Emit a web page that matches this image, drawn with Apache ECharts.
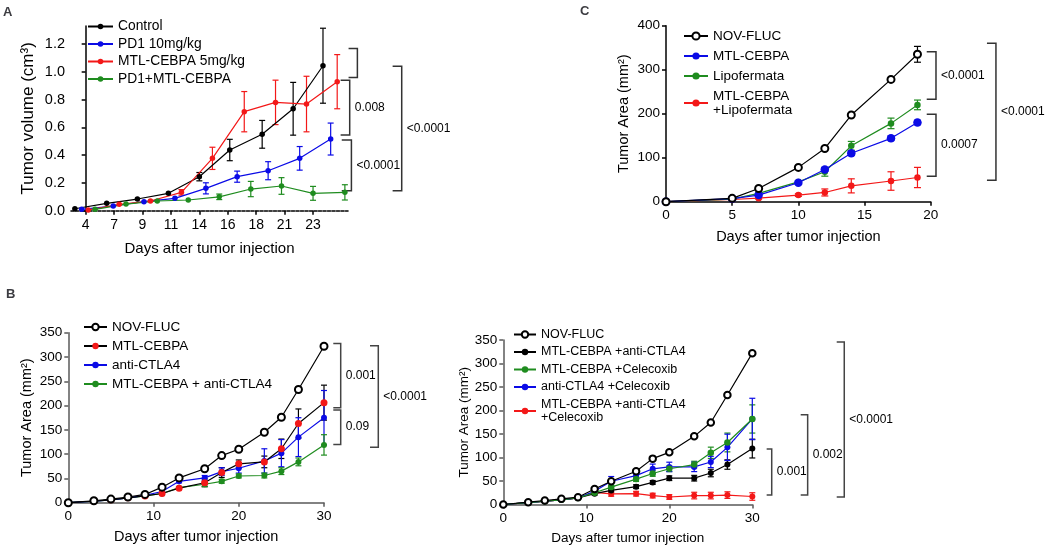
<!DOCTYPE html>
<html>
<head>
<meta charset="utf-8">
<script src="https://cdn.jsdelivr.net/npm/echarts@6/dist/echarts.min.js"></script>
<style>
  html, body { margin: 0; padding: 0; background: #fff; }
  #Chart { width: 1050px; height: 551px; }
</style>
</head>
<body>
<div id="Chart"></div>
<script>
// ---------- panel A : tumor volume (cm3), day groups are staggered
const aDayLabels = ['4', '7', '9', '11', '14', '16', '18', '21', '23'];
// x is the position in label slots
const aControlX = [-0.38, 0.74, 1.82, 2.91, 4.0, 5.07, 6.21, 7.3, 8.35];
const aControlY = [0.014, 0.053, 0.084, 0.125, 0.245, 0.437, 0.55, 0.734, 1.044];
const aControlErr = [0, 0, 0, 0, 0.03, 0.077, 0.1, 0.19, 0.27];
const aPd1X = [-0.14, 0.97, 2.05, 3.14, 4.23, 5.33, 6.42, 7.53, 8.62];
const aPd1Y = [0.01, 0.034, 0.065, 0.089, 0.161, 0.245, 0.288, 0.377, 0.516];
const aPd1Err = [0, 0, 0, 0, 0.04, 0.04, 0.065, 0.085, 0.115];
const aMtlX = [0.09, 1.18, 2.28, 3.37, 4.46, 5.58, 6.68, 7.77, 8.85];
const aMtlY = [0.005, 0.046, 0.07, 0.132, 0.377, 0.713, 0.78, 0.768, 0.929];
const aMtlErr = [0, 0, 0, 0.02, 0.08, 0.145, 0.16, 0.2, 0.195];
const aComboX = [0.33, 1.42, 2.52, 3.61, 4.7, 5.81, 6.89, 8.0, 9.12];
const aComboY = [0.01, 0.048, 0.07, 0.077, 0.1, 0.156, 0.178, 0.125, 0.132];
const aComboErr = [0, 0, 0, 0, 0.02, 0.055, 0.06, 0.05, 0.055];

// ---------- panel C : tumor area (mm2)
const cDays = [0, 5, 7, 10, 12, 14, 17, 19];
const cNovFluc = [0, 7.6, 30, 78, 121, 197, 278, 335];
const cNovFlucErr = [0, 0, 0, 0, 0, 0, 0, 18];
const cMtl = [0, 7, 15, 43, 73, 110, 144, 180];
const cMtlErr = [0, 0, 0, 3, 4, 5, 5, 5];
const cLipo = [0, 6, 19, 45, 68, 127, 178, 220];
const cLipoErr = [0, 0, 2, 3, 10, 10, 12, 11];
const cMtlLipo = [0, 5, 8, 15, 21, 36, 47, 55];
const cMtlLipoErr = [0, 0, 2, 3, 8, 16, 21, 23];

// ---------- panel B left
const bDays = [0, 3, 5, 7, 9, 11, 13, 16, 18, 20, 23, 25, 27, 30];
const bNovFluc = [0, 4, 7.5, 11.7, 17, 32, 51, 70, 97, 110, 145, 176, 233, 322];
const bNovFlucErr = [0, 0, 0, 0, 0, 0, 0, 0, 0, 0, 0, 5, 5, 0];
const bMtl = [0, 3, 6, 10, 14, 19, 30, 41, 62, 80, 84, 111, 163, 206];
const bMtlErr = [0, 0, 0, 0, 0, 0, 0, 8, 10, 8, 12, 20, 30, 36];
const bAnti = [0, 3, 6, 10, 15, 23, 44, 51, 64, 71, 86, 102, 135, 175];
const bAntiErr = [0, 0, 0, 0, 0, 0, 3, 5, 8, 10, 25, 28, 40, 56];
const bMtlAnti = [0, 3, 6, 10, 14, 19, 31, 38, 44, 55, 56, 65, 84, 119];
const bMtlAntiErr = [0, 0, 0, 0, 0, 0, 0, 5, 4, 4, 5, 7, 8, 21];

// ---------- panel B right
const brNovFluc = [0, 5, 8.5, 12, 15.5, 33, 49.5, 70.7, 97.6, 111, 145, 174.6, 233, 322];
const brMtlAnti = [0, 4, 7, 10, 14, 23, 30, 38, 47, 56, 56, 67, 85, 119];
const brMtlAntiErr = [0, 0, 0, 0, 0, 3, 4, 4, 4, 5, 6, 8, 10, 20];
const brMtlCel = [0, 4, 7, 10, 14, 25, 37, 54, 66, 76, 85, 110, 132, 182];
const brMtlCelErr = [0, 0, 0, 0, 0, 0, 4, 5, 6, 6, 7, 12, 20, 30];
const brAntiCel = [0, 4, 7, 10, 14, 28, 49.5, 61.5, 76, 80, 80, 90.5, 121.6, 182];
const brAntiCelErr = [0, 0, 0, 0, 0, 4, 10, 6, 10, 10, 10, 12, 28, 44];
const brTriple = [0, 4, 7, 10, 14, 26, 22.6, 23, 19, 16, 19, 19, 20, 17];
const brTripleErr = [0, 0, 0, 0, 0, 3, 5, 5, 5, 5, 7, 7, 7, 8];

// ---------- significance brackets (x in axis units, y = bracket ends)
const aBrackets = [
  { x: 9.56, arm: 9.25, top: 1.168, bottom: 0.96, label: '' },
  { x: 9.29, arm: 8.97, top: 0.94, bottom: 0.545, label: '0.008' },
  { x: 9.35, arm: 9.01, top: 0.509, bottom: 0.144, label: '<0.0001' },
  { x: 11.12, arm: 10.8, top: 1.04, bottom: 0.144, label: '<0.0001' }
];
const cBrackets = [
  { x: 20.4, arm: 19.7, top: 341, bottom: 232.6, label: '<0.0001' },
  { x: 20.4, arm: 19.7, top: 199, bottom: 58, label: '0.0007' },
  { x: 24.93, arm: 24.25, top: 360, bottom: 49, label: '<0.0001' }
];
const bBrackets = [
  { x: 31.96, arm: 31.09, top: 328, bottom: 195.6, label: '0.001' },
  { x: 31.96, arm: 31.09, top: 191, bottom: 120, label: '0.09' },
  { x: 36.37, arm: 35.4, top: 323, bottom: 114, label: '<0.0001' }
];
const brBrackets = [
  { x: 32.34, arm: 31.73, top: 118, bottom: 20, label: '0.001' },
  { x: 36.67, arm: 35.83, top: 191, bottom: 20, label: '0.002' },
  { x: 41.08, arm: 40.17, top: 346, bottom: 16, label: '<0.0001' }
];

const BLACK = '#000000';
const BLUE = '#0b0be6';
const RED = '#f31818';
const GREEN = '#1f8c1f';
const FONT = 'Liberation Sans, Arial, sans-serif';

const chart = echarts.init(document.getElementById('Chart'));

function pts(xs, ys) {
  return xs.map(function (x, i) { return [x, ys[i]]; });
}

function line(name, grid, xs, ys, opts) {
  return {
    name: name,
    type: 'line',
    xAxisIndex: grid,
    yAxisIndex: grid,
    data: pts(xs, ys),
    symbol: opts.symbol || 'circle',
    symbolSize: opts.size || 6,
    clip: false,
    z: 3,
    lineStyle: { color: opts.line || opts.color, width: 1.2 },
    itemStyle: { color: opts.color, borderColor: opts.color, borderWidth: opts.symbol === 'emptyCircle' ? 1.3 : 0 },
    emphasis: { disabled: true }
  };
}

function errBars(grid, xs, ys, errs, color, cap) {
  const rows = [];
  xs.forEach(function (x, i) {
    if (errs[i] > 0) rows.push([x, ys[i] - errs[i], ys[i] + errs[i]]);
  });
  return {
    type: 'custom',
    xAxisIndex: grid,
    yAxisIndex: grid,
    z: 2,
    silent: true,
    clip: false,
    data: rows,
    encode: { x: 0, y: [1, 2] },
    renderItem: function (params, api) {
      const x = api.value(0);
      const hi = api.coord([x, api.value(2)]);
      const lo = api.coord([x, api.value(1)]);
      const st = { stroke: color, lineWidth: 1.2, fill: null };
      return {
        type: 'group',
        children: [
          { type: 'line', shape: { x1: hi[0], y1: hi[1], x2: lo[0], y2: lo[1] }, style: st },
          { type: 'line', shape: { x1: hi[0] - cap / 2, y1: hi[1], x2: hi[0] + cap / 2, y2: hi[1] }, style: st },
          { type: 'line', shape: { x1: lo[0] - cap / 2, y1: lo[1], x2: lo[0] + cap / 2, y2: lo[1] }, style: st }
        ]
      };
    }
  };
}

function axisX(grid, extra, axisColor) {
  return Object.assign({
    type: 'value',
    gridIndex: grid,
    nameLocation: 'middle',
    nameTextStyle: { fontFamily: FONT, fontSize: 14.5, color: '#000' },
    axisLine: { show: true, lineStyle: { color: axisColor, width: 1.5 } },
    axisTick: { show: true, inside: false, length: 4, lineStyle: { color: axisColor, width: 1.5 } },
    axisLabel: { fontFamily: FONT, fontSize: 13.5, color: '#000', margin: 7 },
    splitLine: { show: false }
  }, extra);
}

function axisY(grid, extra, axisColor) {
  return Object.assign({
    type: 'value',
    gridIndex: grid,
    nameLocation: 'middle',
    nameRotate: 90,
    nameTextStyle: { fontFamily: FONT, fontSize: 14.5, color: '#000' },
    axisLine: { show: true, lineStyle: { color: axisColor, width: 1.5 } },
    axisTick: { show: true, inside: false, length: 4, lineStyle: { color: axisColor, width: 1.5 } },
    axisLabel: { fontFamily: FONT, fontSize: 13.5, color: '#000', margin: 6 },
    splitLine: { show: false }
  }, extra);
}

function legend(names, left, top, itemWidth, itemHeight, gap, fontSize, lh) {
  return {
    data: names,
    orient: 'vertical',
    left: left,
    top: top,
    padding: 0,
    itemWidth: itemWidth,
    itemHeight: itemHeight,
    itemGap: gap,
    selectedMode: false,
    formatter: function (n) { return n.split('|')[1]; },
    textStyle: { fontFamily: FONT, fontSize: fontSize, lineHeight: lh, color: '#000' }
  };
}

const aSlots = [0, 1, 2, 3, 4, 5, 6, 7, 8];
const aTicks = [0, 0.2, 0.4, 0.6, 0.8, 1.0, 1.2];
const GRAY = '#5a5a5a';

const option = {
  animation: false,
  backgroundColor: '#fff',
  title: [
    { text: 'A', left: 3, top: 6, padding: 0, textStyle: { fontFamily: FONT, fontSize: 13, fontWeight: 'bold' } },
    { text: 'C', left: 580, top: 5, padding: 0, textStyle: { fontFamily: FONT, fontSize: 13, fontWeight: 'bold' } },
    { text: 'B', left: 6, top: 288, padding: 0, textStyle: { fontFamily: FONT, fontSize: 13, fontWeight: 'bold' } }
  ],
  grid: [
    { left: 71, top: 26, width: 277, height: 184.7 },
    { left: 666, top: 25.7, width: 264.7, height: 176 },
    { left: 68.3, top: 332.7, width: 255.7, height: 170 },
    { left: 503.3, top: 340, width: 249, height: 164.5 }
  ],
  xAxis: [
    axisX(0, {
      min: -0.516, max: 9.23,
      name: 'Days after tumor injection', nameGap: 31,
      nameTextStyle: { fontFamily: FONT, fontSize: 15, color: '#000' },
      axisLine: { show: true, lineStyle: { color: BLACK, width: 1.6, type: [3, 1.5] } },
      axisTick: { show: true, length: 4, customValues: aSlots, lineStyle: { color: BLACK, width: 1.5 } },
      axisLabel: {
        fontFamily: FONT, fontSize: 14, color: '#000', margin: 7,
        customValues: aSlots,
        formatter: function (v) { return aDayLabels[Math.round(v)]; }
      }
    }, BLACK),
    axisX(1, { min: 0, max: 20, interval: 5, name: 'Days after tumor injection', nameGap: 28 }, BLACK),
    axisX(2, { min: 0, max: 30, interval: 10, name: 'Days after tumor injection', nameGap: 27 }, GRAY),
    axisX(3, { min: 0, max: 30, interval: 10, name: 'Days after tumor injection', nameGap: 27,
      nameTextStyle: { fontFamily: FONT, fontSize: 13.5, color: '#000' } }, GRAY)
  ],
  yAxis: [
    axisY(0, {
      min: 0, max: 1.33,
      name: 'Tumor volume (cm³)', nameGap: 34,
      nameTextStyle: { fontFamily: FONT, fontSize: 17, color: '#000' },
      axisTick: { show: true, length: 4, customValues: aTicks, lineStyle: { color: BLACK, width: 1.5 } },
      axisLabel: {
        fontFamily: FONT, fontSize: 14.5, color: '#000', margin: 6,
        customValues: aTicks,
        formatter: function (v) { return v.toFixed(1); }
      }
    }, BLACK),
    axisY(1, { min: 0, max: 400, interval: 100, name: 'Tumor Area (mm²)', nameGap: 35 }, BLACK),
    axisY(2, { min: 0, max: 350, interval: 50, name: 'Tumor Area (mm²)', nameGap: 34 }, GRAY),
    axisY(3, { min: 0, max: 350, interval: 50, name: 'Tumor Area (mm²)', nameGap: 31,
      nameTextStyle: { fontFamily: FONT, fontSize: 13.5, color: '#000' } }, GRAY)
  ],
  legend: [
    legend(['A|Control', 'A|PD1 10mg/kg', 'A|MTL-CEBPA 5mg/kg', 'A|PD1+MTL-CEBPA'], 87, 19.5, 25, 7, 3.5, 13.8, 14),
    legend(['C|NOV-FLUC', 'C|MTL-CEBPA', 'C|Lipofermata', 'C|MTL-CEBPA\n+Lipofermata'], 683, 29, 24, 9, 6, 13.5, 14),
    legend(['B|NOV-FLUC', 'B|MTL-CEBPA', 'B|anti-CTLA4', 'B|MTL-CEBPA + anti-CTLA4'], 83, 320, 23, 8, 5, 13.5, 14),
    legend(['R|NOV-FLUC', 'R|MTL-CEBPA +anti-CTLA4', 'R|MTL-CEBPA +Celecoxib', 'R|anti-CTLA4 +Celecoxib',
      'R|MTL-CEBPA +anti-CTLA4\n+Celecoxib'], 513, 328, 22, 8, 4.5, 12.5, 13)
  ],
  series: [
    // A
    errBars(0, aControlX, aControlY, aControlErr, BLACK, 6),
    errBars(0, aPd1X, aPd1Y, aPd1Err, BLUE, 6),
    errBars(0, aMtlX, aMtlY, aMtlErr, RED, 6),
    errBars(0, aComboX, aComboY, aComboErr, GREEN, 6),
    line('A|Control', 0, aControlX, aControlY, { color: BLACK, size: 5.5 }),
    line('A|PD1 10mg/kg', 0, aPd1X, aPd1Y, { color: BLUE, size: 5.5 }),
    line('A|MTL-CEBPA 5mg/kg', 0, aMtlX, aMtlY, { color: RED, size: 5.5 }),
    line('A|PD1+MTL-CEBPA', 0, aComboX, aComboY, { color: GREEN, size: 5.5 }),
    // C
    errBars(1, cDays, cNovFluc, cNovFlucErr, BLACK, 7),
    errBars(1, cDays, cMtl, cMtlErr, BLUE, 7),
    errBars(1, cDays, cLipo, cLipoErr, GREEN, 7),
    errBars(1, cDays, cMtlLipo, cMtlLipoErr, RED, 7),
    line('C|MTL-CEBPA\n+Lipofermata', 1, cDays, cMtlLipo, { color: RED, size: 6.5 }),
    line('C|Lipofermata', 1, cDays, cLipo, { color: GREEN, size: 6.5 }),
    line('C|MTL-CEBPA', 1, cDays, cMtl, { color: BLUE, size: 8.5 }),
    line('C|NOV-FLUC', 1, cDays, cNovFluc, { color: BLACK, size: 7, symbol: 'emptyCircle' }),
    // B left
    errBars(2, bDays, bNovFluc, bNovFlucErr, BLACK, 6),
    errBars(2, bDays, bMtl, bMtlErr, BLACK, 6),
    errBars(2, bDays, bAnti, bAntiErr, BLUE, 6),
    errBars(2, bDays, bMtlAnti, bMtlAntiErr, GREEN, 6),
    line('B|MTL-CEBPA + anti-CTLA4', 2, bDays, bMtlAnti, { color: GREEN, size: 6 }),
    line('B|anti-CTLA4', 2, bDays, bAnti, { color: BLUE, size: 6 }),
    line('B|MTL-CEBPA', 2, bDays, bMtl, { color: RED, line: BLACK, size: 7 }),
    line('B|NOV-FLUC', 2, bDays, bNovFluc, { color: BLACK, size: 7, symbol: 'emptyCircle' }),
    // B right
    errBars(3, bDays, brMtlAnti, brMtlAntiErr, BLACK, 6),
    errBars(3, bDays, brMtlCel, brMtlCelErr, GREEN, 6),
    errBars(3, bDays, brAntiCel, brAntiCelErr, BLUE, 6),
    errBars(3, bDays, brTriple, brTripleErr, RED, 6),
    line('R|MTL-CEBPA +anti-CTLA4\n+Celecoxib', 3, bDays, brTriple, { color: RED, size: 6 }),
    line('R|MTL-CEBPA +anti-CTLA4', 3, bDays, brMtlAnti, { color: BLACK, size: 6 }),
    line('R|anti-CTLA4 +Celecoxib', 3, bDays, brAntiCel, { color: BLUE, size: 6 }),
    line('R|MTL-CEBPA +Celecoxib', 3, bDays, brMtlCel, { color: GREEN, size: 6.5 }),
    line('R|NOV-FLUC', 3, bDays, brNovFluc, { color: BLACK, size: 6.5, symbol: 'emptyCircle' })
  ]
};

chart.setOption(option);

// brackets with p-values, placed through the axes of each grid
function brackets(grid, list, color) {
  const out = [];
  list.forEach(function (b) {
    const t = chart.convertToPixel({ gridIndex: grid }, [b.x, b.top]);
    const d = chart.convertToPixel({ gridIndex: grid }, [b.x, b.bottom]);
    const a = chart.convertToPixel({ gridIndex: grid }, [b.arm, b.top])[0];
    out.push({
      type: 'polyline',
      silent: true,
      shape: { points: [[a, t[1]], [t[0], t[1]], [d[0], d[1]], [a, d[1]]] },
      style: { stroke: color, lineWidth: 1.5, fill: null }
    });
    if (b.label) {
      out.push({
        type: 'text',
        silent: true,
        x: t[0] + 5,
        y: (t[1] + d[1]) / 2,
        style: { text: b.label, fontFamily: FONT, fontSize: 12, fill: '#000', verticalAlign: 'middle', align: 'left' }
      });
    }
  });
  return out;
}

chart.setOption({
  graphic: [].concat(
    brackets(0, aBrackets, '#333'),
    brackets(1, cBrackets, '#333'),
    brackets(2, bBrackets, '#444'),
    brackets(3, brBrackets, '#444')
  )
});
</script>
</body>
</html>
